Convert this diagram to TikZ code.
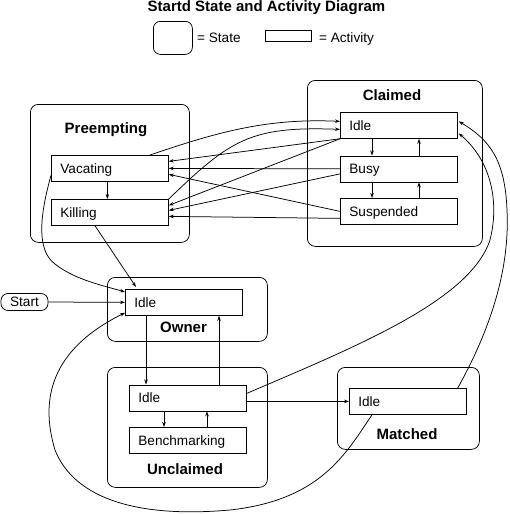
\documentclass[tikz,border=0pt]{standalone}
\usepackage{fontspec}
\setmainfont{Liberation Sans}
\usetikzlibrary{arrows.meta,calc}

\tikzset{every picture/.style={line width=0.75pt}}
\tikzset{
  activity/.style={draw, anchor=north west, minimum width=117pt, minimum height=26pt,
    text width=99pt, text height=13pt, text depth=3pt, inner xsep=9pt, inner ysep=0pt, align=left,
    font=\fontsize{13.6}{16}\selectfont},
  statebox/.style={draw, anchor=north west, rounded corners=8pt, inner sep=0pt},
  statename/.style={font=\bfseries\fontsize{15}{18}\selectfont, inner sep=0.75pt},
  plain/.style={font=\fontsize{13.6}{16}\selectfont, inner sep=0.75pt},
  arr/.style={-{Stealth[length=5pt,width=3.5pt]}},
}

\begin{document}
\begin{tikzpicture}[x=1pt,y=1pt,yscale=-1,xscale=1]
	\useasboundingbox (0,0) rectangle (510,514);
	
	% Text Node
	\node[statename] (title) at (266.5,8) {Startd State and Activity Diagram};
	
	%Shape: Legend
	\node[statebox, minimum width=39pt, minimum height=33pt, rounded corners=7pt] (legstate) at (153,21) {};
	\node[plain, anchor=west] (legstatetxt) at (196,38) {= State};
	\node[draw, anchor=north west, minimum width=46pt, minimum height=11pt, inner sep=0pt] (legact) at (265,30) {};
	\node[plain, anchor=west] (legacttxt) at (318,39) {= Activity};
	
	%Shape: States
	\node[statebox, minimum width=159pt, minimum height=138pt] (preempting) at (30,104) {};
	\node[statename] (preemptinglabel) at (106,130) {Preempting};
	\node[statebox, minimum width=175pt, minimum height=166pt] (claimed) at (307,80) {};
	\node[statename] (claimedlabel) at (392,95) {Claimed};
	\node[statebox, minimum width=160pt, minimum height=64pt] (owner) at (107,277) {};
	\node[statename] (ownerlabel) at (183.5,327) {Owner};
	\node[statebox, minimum width=160pt, minimum height=120pt] (unclaimed) at (107,367) {};
	\node[statename] (unclaimedlabel) at (185,469) {Unclaimed};
	\node[statebox, minimum width=142pt, minimum height=82pt] (matched) at (337,367) {};
	\node[statename] (matchedlabel) at (407,434) {Matched};
	
	%Shape: Activities
	\node[activity] (vacating) at (51,155) {Vacating};
	\node[activity] (killing) at (51,199) {Killing};
	\node[activity] (clidle) at (340,112) {Idle};
	\node[activity] (busy) at (340,155.5) {Busy};
	\node[activity] (suspended) at (340,198) {Suspended};
	\node[activity] (ownidle) at (125,289) {Idle};
	\node[activity] (unclidle) at (129,384.5) {Idle};
	\node[activity] (benchmarking) at (129,427) {Benchmarking};
	\node[activity] (matchidle) at (349,388) {Idle};
	
	% Text Node
	\node[plain, draw, rounded corners=7pt, minimum width=47pt, minimum height=17pt, inner sep=0pt] (start) at (24.5,302) {Start};
	
	%Straight Lines: inside Preempting and Claimed
	\draw[arr] ($(vacating.south)+(-2.5,0)$) -- ($(killing.north)+(-2.5,0)$);
	\draw[arr] ($(clidle.south west)+(32,0)$) -- ($(busy.north west)+(32,0)$);
	\draw[arr] ($(busy.north west)+(79,0)$) -- ($(clidle.south west)+(79,0)$);
	\draw[arr] ($(busy.south west)+(32,0)$) -- ($(suspended.north west)+(32,0)$);
	\draw[arr] ($(suspended.north west)+(79,0)$) -- ($(busy.south west)+(79,0)$);
	
	%Straight Lines: Claimed to Preempting
	\draw[arr] (clidle.south west) -- ($(vacating.east)+(0,-7)$);
	\draw[arr] (clidle.south west) -- ($(killing.east)+(0,-7)$);
	\draw[arr] (busy.west) -- (vacating.east);
	\draw[arr] ($(busy.west)+(0,5)$) -- ($(killing.east)+(0,-2)$);
	\draw[arr] (suspended.west) -- ($(vacating.east)+(0,6)$);
	\draw[arr] ($(suspended.west)+(0,7)$) -- ($(killing.east)+(0,4)$);
	
	%Curve Lines: Preempting to Claimed
	\draw[arr] ($(vacating.north west)+(99,0)$) .. controls (215,133) and (265,118) .. ($(clidle.west)+(0,-4)$);
	\draw[arr] (killing.north east) .. controls (230,140) and (250,126) .. ($(clidle.west)+(0,4)$);
	
	%Curve Lines: Preempting to Owner
	\draw[arr] ($(vacating.west)+(0,7)$) .. controls (40,215) and (36,250) .. (55,264) .. controls (75,280) and (105,286) .. ($(ownidle.north west)+(0,3)$);
	\draw[arr] ($(killing.south west)+(44,0)$) -- ($(ownidle.north west)+(11,-2)$);
	
	%Straight Lines: Start, Owner, Unclaimed, Matched
	\draw[arr] (start.east) -- (ownidle.west);
	\draw[arr] ($(ownidle.south west)+(21,0)$) -- ($(unclidle.north west)+(17,0)$);
	\draw[arr] ($(unclidle.north west)+(90,0)$) -- ($(ownidle.south west)+(94,0)$);
	\draw[arr] ($(unclidle.south west)+(35,0)$) -- ($(benchmarking.north west)+(35,0)$);
	\draw[arr] ($(benchmarking.north west)+(78,0)$) -- ($(unclidle.south west)+(78,0)$);
	\draw[arr] (unclidle.east |- matchidle.west) -- (matchidle.west);
	
	%Curve Lines: back to Claimed
	\draw[arr] ($(unclidle.east)+(0,-4.5)$) .. controls (360,345) and (470,300) .. (490,240) .. controls (500,200) and (490,160) .. ($(clidle.east)+(1,8)$);
	\draw[arr] ($(matchidle.north east)+(-9,0)$) .. controls (490,330) and (510,270) .. (507,210) .. controls (505,160) and (490,140) .. ($(clidle.east)+(1,-4)$);
	
	%Curve Lines: Matched to Owner
	\draw[arr] ($(matchidle.south west)+(23,0)$) .. controls (345,455) and (320,500) .. (230,510) .. controls (140,518) and (75,500) .. (55,450) .. controls (40,400) and (50,350) .. ($(ownidle.south west)+(0,-3)$);
	
\end{tikzpicture}
\end{document}
